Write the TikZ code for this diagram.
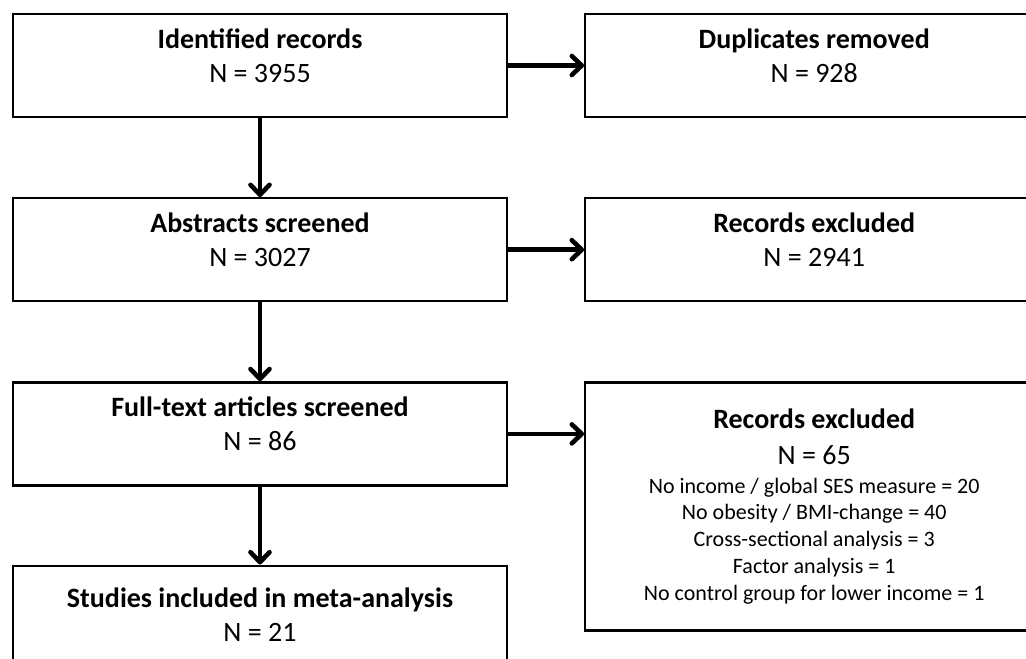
\documentclass[tikz,border=0pt]{standalone}
\usepackage{fontspec}
\setmainfont{Carlito}
\usetikzlibrary{arrows.meta,positioning}
\newcommand{\reasonfont}{\fontsize{11}{13.4}\selectfont}

\begin{document}
\begin{tikzpicture}[x=0.5pt, y=-0.5pt,
  box/.style={draw, line width=1.1pt, minimum width=247pt, minimum height=51.5pt,
              align=center, font=\fontsize{14}{17}\selectfont},
  sidebox/.style={box, minimum width=229pt},
  flow/.style={-{Straight Barb[length=5pt, width=9.5pt, round]}, line width=2.3pt}
]
  \useasboundingbox (0,0) rectangle (1026,658);
  \clip (0,0) rectangle (1026,658);

  % main column
  \node[box] (ident) at (260,65.5) {
    \textbf{Identified records}\\N = 3955\\[-6.8pt]\mbox{}
  };
  \node[box, below=39.5pt of ident] (abstr) {
    \textbf{Abstracts screened}\\N = 3027\\[-6.8pt]\mbox{}
  };
  \node[box, below=39.5pt of abstr] (full) {
    \textbf{Full-text articles screened}\\N = 86\\[-6.8pt]\mbox{}
  };
  \node[box, below=39pt of full, minimum height=49pt] (incl) {
    \textbf{Studies included in meta-analysis}\\N = 21
  };

  % side column
  \node[sidebox, right=38pt of ident] (dup) {
    \textbf{Duplicates removed}\\N = 928\\[-6.8pt]\mbox{}
  };
  \node[sidebox, right=38pt of abstr] (excl) {
    \textbf{Records excluded}\\N = 2941\\[-6.8pt]\mbox{}
  };
  \node[sidebox, right=38pt of full.north east, anchor=north west,
        minimum height=124pt] (exclft) {
    \textbf{Records excluded}\\[0.9pt]
    N = 65\\[-2.5pt]
    \reasonfont No income / global SES measure = 20\\[-3.6pt]
    \reasonfont No obesity / BMI-change = 40\\[-3.6pt]
    \reasonfont Cross-sectional analysis = 3\\[-3.6pt]
    \reasonfont Factor analysis = 1\\[-3.6pt]
    \reasonfont No control group for lower income = 1
  };

  \foreach \a/\b in {ident/abstr, abstr/full, full/incl}
    \draw[flow] (\a) -- (\b);
  \draw[flow] (ident) -- (dup);
  \draw[flow] (abstr) -- (excl);
  \draw[flow] (full.east) -- (full.east -| exclft.west);
\end{tikzpicture}
\end{document}
